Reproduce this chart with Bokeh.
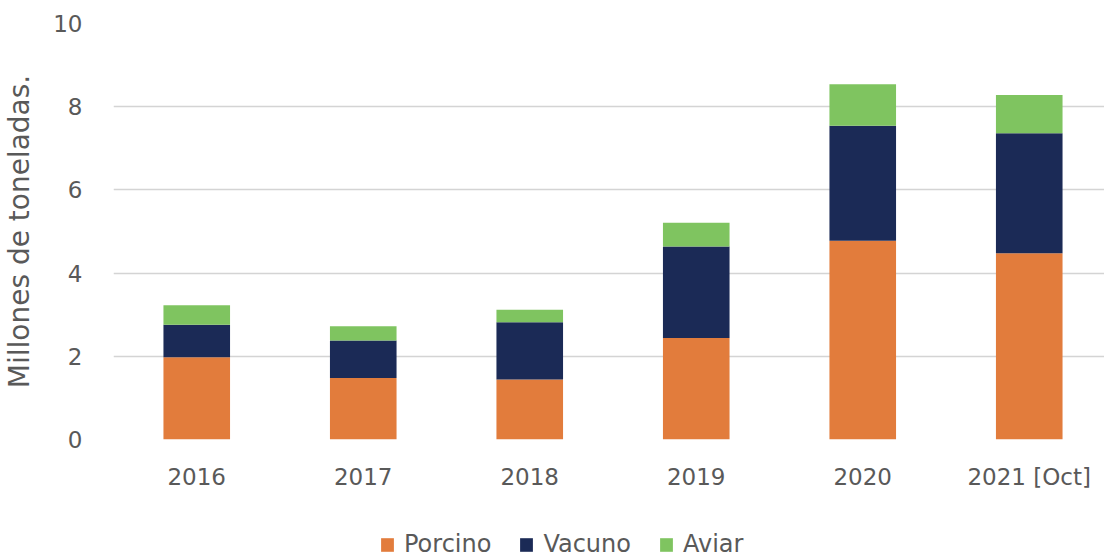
from bokeh.plotting import figure
from bokeh.layouts import column
from bokeh.models import Range1d, FixedTicker, Legend, LegendItem, ColumnDataSource
from bokeh.embed import file_html
from bokeh.resources import INLINE

years = ["2016", "2017", "2018", "2019", "2020", "2021 [Oct]"]
porcino = [1.98, 1.48, 1.44, 2.44, 4.78, 4.48]
vacuno = [0.78, 0.90, 1.38, 2.20, 2.76, 2.88]
aviar = [0.47, 0.34, 0.30, 0.57, 1.00, 0.92]
series = ["Porcino", "Vacuno", "Aviar"]
colors = ["#E27C3C", "#1B2A56", "#7FC460"]
y_ticks = [0, 2, 4, 6, 8, 10]

x = [i + 0.5 for i in range(len(years))]
src = ColumnDataSource(dict(x=x, Porcino=porcino, Vacuno=vacuno, Aviar=aviar))

FONT = "DejaVu Sans"
GREY = "#595959"

p = figure(width=1104, height=494, x_range=Range1d(0, 5.952), y_range=Range1d(0, 10),
           output_backend="svg", toolbar_location=None,
           min_border_left=104, min_border_right=0, min_border_top=23, min_border_bottom=55)

rs = p.vbar_stack(series, x="x", width=0.4, color=colors, line_color=None, source=src)

p.outline_line_color = None
p.xgrid.grid_line_color = None
p.ygrid.grid_line_color = "#D4D4D4"
p.ygrid.grid_line_width = 1.6
p.ygrid.ticker = FixedTicker(ticks=y_ticks)

p.yaxis.ticker = FixedTicker(ticks=y_ticks)
p.xaxis.ticker = FixedTicker(ticks=x)
p.xaxis.major_label_overrides = {xi: lab for xi, lab in zip(x, years)}

for ax in (p.xaxis, p.yaxis):
    ax.axis_line_color = None
    ax.major_tick_line_color = None
    ax.minor_tick_line_color = None
    ax.major_label_text_font = FONT
    ax.major_label_text_font_size = "23px"
    ax.major_label_text_color = GREY

p.yaxis.major_label_standoff = 25
p.xaxis.major_label_standoff = 18
p.yaxis.axis_label = "Millones de toneladas."
p.yaxis.axis_label_text_font = FONT
p.yaxis.axis_label_text_font_size = "28px"
p.yaxis.axis_label_text_font_style = "normal"
p.yaxis.axis_label_text_color = GREY
p.yaxis.axis_label_standoff = 14

# legend strip below the chart (hidden copies of the bars feed the legend)
lf = figure(width=1104, height=64, x_range=Range1d(0, 1), y_range=Range1d(0, 1),
            output_backend="svg", toolbar_location=None,
            min_border_left=0, min_border_right=0, min_border_top=0, min_border_bottom=0)
lf.axis.visible = False
lf.grid.visible = False
lf.outline_line_color = None
lrs = lf.vbar_stack(series, x="x", width=0.4, color=colors, line_color=None, source=src)
for r in lrs:
    r.visible = False

legend = Legend(items=[LegendItem(label=s, renderers=[r]) for s, r in zip(series, lrs)],
                orientation="horizontal", location=(266, 0), padding=0, margin=0,
                spacing=27, glyph_width=16, glyph_height=17, label_height=15,
                label_standoff=9, label_text_font=FONT, label_text_font_size="24px",
                label_text_color=GREY, border_line_color=None, background_fill_alpha=0,
                inactive_fill_alpha=0)
lf.add_layout(legend, "center")

layout = column(p, lf, spacing=0)
open("out.html", "w").write(file_html(layout, INLINE))
